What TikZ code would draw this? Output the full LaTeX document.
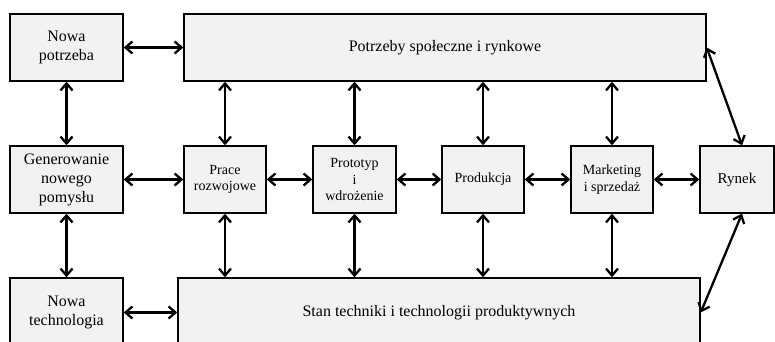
\documentclass[tikz,border=0pt]{standalone}
\usepackage{fontspec}
\setmainfont{Liberation Serif}
\usetikzlibrary{arrows.meta}
\definecolor{boxfill}{HTML}{F2F2F2}
\tikzset{
  blk/.style={draw=black, line width=1.4pt, fill=boxfill, inner sep=0pt,
    align=center, font=\fontsize{16}{19}\selectfont},
  blksmall/.style={blk, font=\fontsize{14}{16.5}\selectfont},
  link/.style={line width=2.3pt, {Straight Barb[length=7pt,width=12pt]}-{Straight Barb[length=7pt,width=12pt]}}
}
\begin{document}
\begin{tikzpicture}[x=1pt,y=-1pt]
  \useasboundingbox (0,0) rectangle (775,342);
  \clip (0,0) rectangle (775,342);
  % top row
  \node[blk, minimum width=113pt, minimum height=67pt] (np) at (66.5,47.5) {Nowa\\potrzeba};
  \node[blk, minimum width=522pt, minimum height=67pt] (pot) at (445,47.5) {Potrzeby społeczne i rynkowe};
  % middle row
  \node[blk, minimum width=113pt, minimum height=67pt] (gen) at (66.5,179.5) {Generowanie\\nowego\\pomysłu};
  \node[blksmall, minimum width=82pt, minimum height=67pt] (pr) at (225,179.5) {Prace\\rozwojowe};
  \node[blksmall, minimum width=83pt, minimum height=67pt] (pt) at (354.5,179.5) {Prototyp\\i\\wdrożenie};
  \node[blksmall, minimum width=82pt, minimum height=67pt] (prod) at (483,179.5) {Produkcja};
  \node[blksmall, minimum width=82pt, minimum height=67pt] (mk) at (612,179.5) {Marketing\\i sprzedaż};
  \node[blk, minimum width=74pt, minimum height=67pt, font=\fontsize{15}{18}\selectfont] (ry) at (737,179.5) {Rynek};
  % bottom row
  \node[blk, minimum width=113pt, minimum height=69pt] (nt) at (66.5,312.5) {Nowa\\technologia};
  \node[blk, minimum width=522pt, minimum height=69pt] (stan) at (439,312.5) {Stan techniki i technologii produktywnych};
  % horizontal links
  \draw[link] (np.east) -- (pot.west |- np.east);
  \draw[link] (gen.east) -- (pr.west);
  \draw[link] (pr.east) -- (pt.west);
  \draw[link] (pt.east) -- (prod.west);
  \draw[link] (prod.east) -- (mk.west);
  \draw[link] (mk.east) -- (ry.west);
  \draw[link] (nt.east) -- (stan.west |- nt.east);
  % vertical links
  \draw[link] (np.south) -- (gen.north);
  \draw[link] (gen.south) -- (nt.north);
  \foreach \n in {pr,pt,prod,mk}{
    \draw[link] (\n.north) -- (\n.north |- pot.south);
    \draw[link] (\n.south) -- (\n.south |- stan.north);
  }
  % market links
  \coordinate (ryt) at ([xshift=5pt]ry.north);
  \coordinate (ryb) at ([xshift=5pt]ry.south);
  \draw[link] (pot.east) -- (ryt);
  \draw[link] (ryb) -- (stan.east);
\end{tikzpicture}
\end{document}
